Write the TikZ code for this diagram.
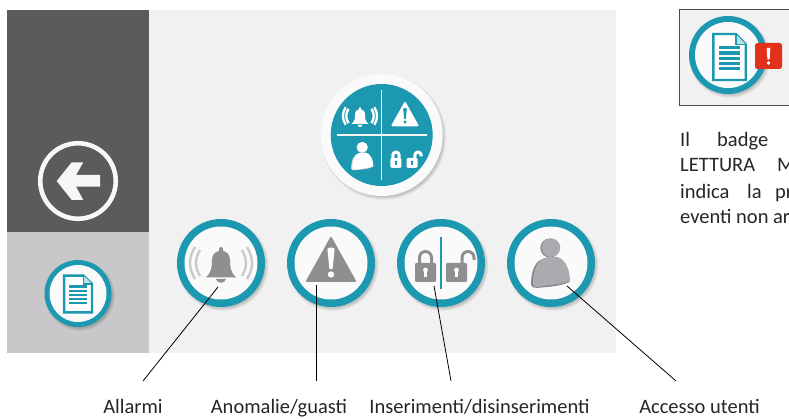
\documentclass[tikz,border=0pt]{standalone}
\usepackage{fontspec}
\setmainfont{Carlito}
\definecolor{teal1}{HTML}{1C98B0}
\definecolor{panel}{HTML}{F1F1F2}
\definecolor{darkp}{HTML}{5B5B5B}
\definecolor{lightp}{HTML}{C8C8CA}
\definecolor{icong}{HTML}{8F8F92}
\definecolor{wave}{HTML}{C9C9CB}
\definecolor{userg}{HTML}{ABABAF}
\definecolor{userd}{HTML}{87878B}
\definecolor{redb}{HTML}{E3301C}
\tikzset{
  leader/.style={draw=black,line width=0.8pt},
  lab/.style={inner sep=0pt,anchor=base,font=\fontsize{20.5}{20.5}\selectfont,text=black!85},
  para/.style={inner sep=0pt,anchor=base west,font=\fontsize{20.5}{20.5}\selectfont,text=black!85},
  pics/softshadow/.style={code={
    \foreach \r in {0,0.8,1.6,2.4,3.2}{\fill[black,opacity=0.045] (1.8,2.2) circle ({#1+\r-1.5});}
  }},
  pics/docicon/.style={code={
    \draw[teal1,line width=2.4pt,fill=white,line join=miter] (-15,-20) -- (6,-20) -- (15,-11) -- (15,20) -- (-15,20) -- cycle;
    \draw[teal1,line width=1.4pt,fill=teal1!30] (6,-20) -- (6,-11) -- (15,-11);
    \foreach \y in {-8,-3.5,1,5.5,10}{\fill[teal1] (-10,\y-1.35) rectangle (10,\y+1.35);}
  }},
  pics/bellicon/.style={code={
    \fill[#1] (-15.5,14.5) .. controls (-9,10) and (-9,2) .. (-9,-3) .. controls (-9,-9) and (-5,-11.5) .. (-2,-12) -- (-2,-14) arc[start angle=180,end angle=360,radius=2] -- (2,-12) .. controls (5,-11.5) and (9,-9) .. (9,-3) .. controls (9,2) and (9,10) .. (15.5,14.5) -- cycle;
    \fill[#1] (-5,16) -- (5,16) .. controls (4,21) and (-4,21) .. (-5,16) -- cycle;
  }},
  pics/wavesicon/.style={code={
    \foreach \s in {-1,1}{
      \draw[#1,line width=2.3pt] (\s*21,-13) .. controls (\s*26.3,-4) and (\s*26.3,4) .. (\s*21,13);
      \draw[#1,line width=2.3pt] (\s*26,-16) .. controls (\s*32.7,-5) and (\s*32.7,5) .. (\s*26,16);
    }
  }},
  pics/warnicon/.style args={#1/#2}{code={
    \fill[#1,draw=#1,line width=2pt,line join=round] (0,-25) -- (24,18) -- (-24,18) -- cycle;
    \fill[#2] (-3.6,-14) .. controls (-2,-16) and (2,-16) .. (3.6,-14) -- (1.6,6) -- (-1.6,6) -- cycle;
    \fill[#2] (0,11.5) circle (3.2);
  }},
  pics/lockclosed/.style args={#1/#2}{code={
    \draw[#1,line width=3pt] (-21.5,2) -- (-21.5,-5.5) arc[start angle=180,end angle=360,radius=6] -- (-9.5,2);
    \fill[#1,rounded corners=1.2pt] (-26,0) rectangle (-5,19);
    \fill[#2] (-15.5,7) circle (2.4);
    \fill[#2] (-16.8,8) rectangle (-14.2,14);
  }},
  pics/lockopen/.style args={#1/#2}{code={
    \draw[#1,line width=3pt] (21,2) -- (21,-5.5) arc[start angle=180,end angle=360,radius=6] -- (33,-3);
    \fill[#1,rounded corners=1.2pt] (5,0) rectangle (26,19);
    \fill[#2] (15.5,7) circle (2.4);
    \fill[#2] (14.2,8) rectangle (16.8,14);
  }},
  pics/usericon/.style args={#1/#2}{code={
    \fill[#2] (-1.2,-15) circle (9.5);
    \fill[#2] (-20,22) .. controls (-20,10) and (-17,-5) .. (-3,-5) -- (5,-5) .. controls (14,-4) and (18,8) .. (18.5,19) .. controls (8,24) and (-8,24) .. (-14,25) .. controls (-17,25) and (-20,24) .. (-20,22) -- cycle;
    \fill[#1] (0,-15.3) circle (9.3);
    \fill[#1] (-18,21) .. controls (-18,10) and (-15,-5) .. (-2,-6) -- (6,-6) .. controls (15,-4) and (19,8) .. (19,18) .. controls (8,22) and (-6,22) .. (-13,24) .. controls (-16,24.5) and (-18,23) .. (-18,21) -- cycle;
  }},
  pics/ringbtn/.style={code={
    \pic {softshadow=44};
    \fill[teal1] (0,0) circle (44);
    \fill[white!98!black] (0,0) circle (36.5);
  }}
}
\begin{document}
\begin{tikzpicture}[x=1pt,y=-1pt]
\useasboundingbox (0,0) rectangle (789,419);
\clip (0,0) rectangle (789,419);
\fill[white] (0,0) rectangle (789,419);
% panels
\fill[panel] (149,10) rectangle (616,353);
\fill[darkp] (7,10) rectangle (149,232);
\fill[lightp] (7,232) rectangle (149,353);
% back button
\node[circle,draw=white!97!black,line width=4.6pt,minimum size=75.5pt,inner sep=0pt] (backbtn) at (78,181) {};
\fill[white!97!black] (71.7,162.3) -- (83.3,162.3) -- (76,175) -- (100,175) -- (100,186.7) -- (76,186.7) -- (83.3,200) -- (71.7,200) -- (56.7,181) -- cycle;
% small document button
\begin{scope}[shift={(78,293.5)}]
\pic {softshadow=33.5};
\fill[teal1] (0,0) circle (33.5);
\fill[white!98!black] (0,0) circle (28.5);
\end{scope}
\pic[xscale=0.93,yscale=0.92] at (78,294) {docicon};
% central button
\begin{scope}[shift={(381.7,135)}]
\pic {softshadow=61};
\fill[white!98!black] (0,0) circle (61);
\fill[teal1] (0,0) circle (51);
\draw[white!96!black,line width=1.5pt] (-45,0) -- (45,0);
\draw[white!96!black,line width=1.5pt] (0,-45) -- (0,45);
\end{scope}
\pic[scale=0.55] at (360,116) {wavesicon=white};
\pic[scale=0.55] at (360,116) {bellicon=white};
\pic[scale=0.52] at (405,116) {warnicon={white/teal1}};
\pic[scale=0.52] at (404,158) {lockclosed={white/teal1}};
\pic[scale=0.52] at (404,158) {lockopen={white/teal1}};
\pic[scale=0.57] at (362.5,156) {usericon={white/white!85!black}};
% bottom buttons
\pic at (221,263) {ringbtn};
\pic at (331,263) {ringbtn};
\pic at (441,263) {ringbtn};
\pic at (551,263) {ringbtn};
\pic at (221,263) {wavesicon=wave};
\pic at (221,263) {bellicon=icong};
\pic at (331,263) {warnicon={icong/white}};
\pic at (441,263) {lockclosed={icong/white}};
\pic at (441,263) {lockopen={icong/white}};
\draw[teal1,line width=2pt] (441,237) -- (441,289);
\pic at (551,263) {usericon={userg/userd}};
% badge box
\fill[panel] (679,9) rectangle (795,105);
\draw[black!70,line width=0.9pt] (795,9) -- (679,9) -- (679,105) -- (795,105);
\begin{scope}[shift={(728,55)}]
\pic {softshadow=39};
\fill[teal1] (0,0) circle (39);
\fill[white!98!black] (0,0) circle (33);
\end{scope}
\pic[xscale=1.08,yscale=1.15] at (729.5,57) {docicon};
\fill[redb,rounded corners=2.5pt] (755,43) rectangle (782,69);
\fill[white] (766.7,48) -- (770.3,48) -- (769.6,59.5) -- (767.4,59.5) -- cycle;
\fill[white] (768.5,63) circle (1.9);
% paragraph (cut by the page edge)
\node[para] (p1a) at (680,147) {Il};
\node[para] (p1b) at (717,147) {badge};
\node[para] (p2a) at (680,172) {LETTURA};
\node[para] (p2b) at (777,172) {M};
\node[para] (p3a) at (680,198.5) {indica};
\node[para] (p3b) at (747,198.5) {la};
\node[para] (p3c) at (775,198.5) {pr};
\node[para] (p4a) at (680,224) {eventi non ar};
% labels
\node[lab] (allarmi) at (133,413) {Allarmi};
\node[lab] (anomalie) at (279,413) {Anomalie/guasti};
\node[lab] (inser) at (479.5,413) {Inserimenti/disinserimenti};
\node[lab] (accesso) at (699.5,413) {Accesso utenti};
% leaders
\coordinate (a1) at (218,287);\coordinate (a2) at (143,381);
\coordinate (b1) at (316.5,285);\coordinate (b2) at (316.5,381);
\coordinate (c1) at (434,286);\coordinate (c2) at (451,381);
\coordinate (d1) at (567,286);\coordinate (d2) at (676,381);
\draw[leader] (a1) -- (a2);
\draw[leader] (b1) -- (b2);
\draw[leader] (c1) -- (c2);
\draw[leader] (d1) -- (d2);
\end{tikzpicture}
\end{document}
